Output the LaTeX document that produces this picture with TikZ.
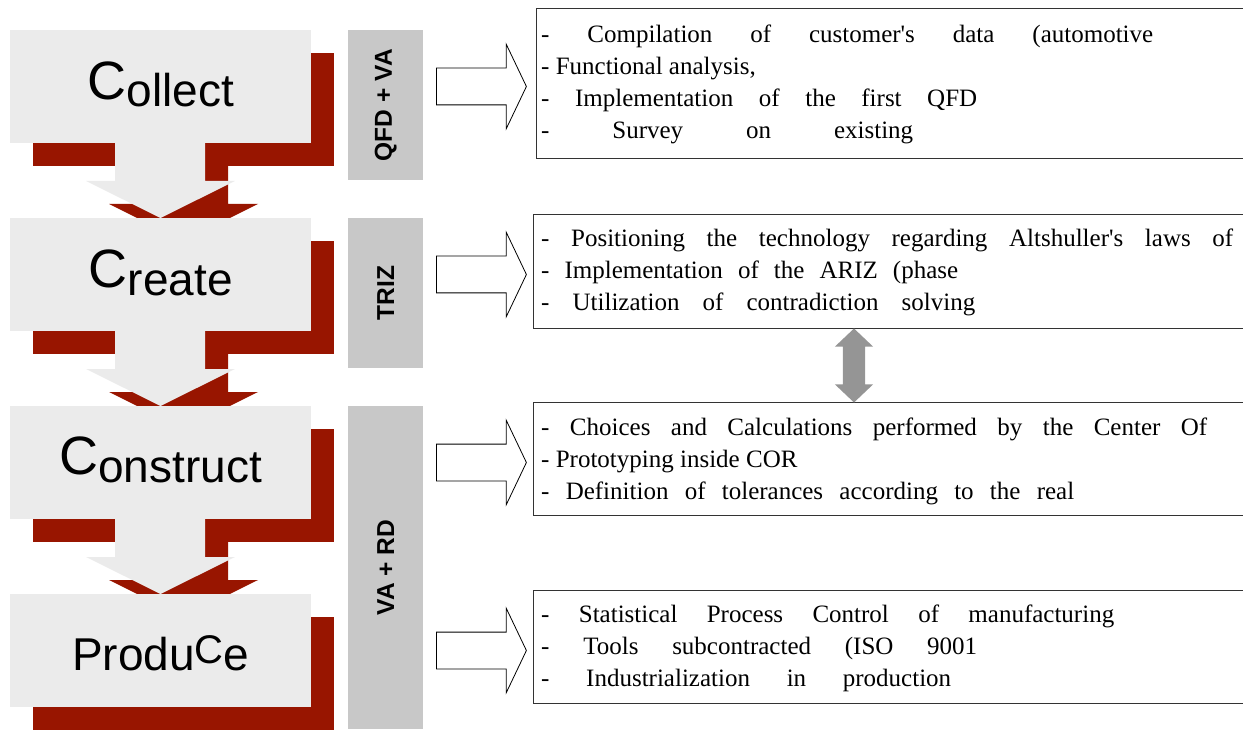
\documentclass[tikz,border=0pt]{standalone}
\usepackage{fontspec}
\setmainfont{Liberation Serif}
\newfontfamily\headfont{Liberation Sans}
\usetikzlibrary{shapes.arrows,calc}

\definecolor{shadowred}{RGB}{152,21,0}
\definecolor{stagegray}{RGB}{235,235,235}
\definecolor{bargray}{RGB}{200,200,200}
\definecolor{linkgray}{RGB}{149,149,149}

% raised capital C of the stage names
\newcommand\raisedC[2]{\raisebox{#1pt}{\fontsize{#2}{#2}\selectfont C}}
% one line of a note, spread to a width (0 = natural width)
\newcommand\noteline[2]{\ifdim#1pt>0pt\makebox[#1pt][s]{#2}\else#2\fi}
\newcommand\qt{\textquotesingle}

\tikzset{
  stagebox/.style={fill=stagegray, minimum width=301pt, minimum height=113pt, inner sep=0pt, anchor=north west},
  stagelabel/.style={anchor=base, inner sep=0pt, font=\headfont\fontsize{46}{46}\selectfont},
  toolbar/.style={fill=bargray, minimum width=75pt, inner sep=0pt, anchor=north west},
  barlabel/.style={rotate=90, inner sep=0pt, font=\headfont\bfseries\fontsize{24.5}{24.5}\selectfont},
  notebox/.style={draw=black!80, line width=1pt, fill=white, minimum width=720pt, inner sep=0pt, anchor=north west},
  notetext/.style={anchor=base west, inner sep=0pt, font=\fontsize{25}{32}\selectfont},
  hollowarrow/.style={single arrow, draw=black, line width=0.8pt, fill=white, anchor=tail,
    inner xsep=0pt, inner ysep=18pt, minimum height=90pt, single arrow head extend=24pt,
    single arrow tip angle=129},
}

\begin{document}
\begin{tikzpicture}[x=1pt, y=-1pt]
  \useasboundingbox (0,0) rectangle (1243,730);

  % stages with red shadows and the arrows between them
  \foreach \i/\nm in {0/collect,1/create,2/construct,3/produce} {
    \pgfmathsetmacro\t{30+188*\i}
    \fill[shadowred] (33,\t+23) rectangle ++(301,113);
    \node[stagebox] (\nm) at (10,\t) {};
    \ifnum\i<3
      \fill[shadowred, shift={(23,23)}] (115,\t+113) -- (205,\t+113) -- (205,\t+151) -- (235,\t+151)
        -- (160.5,\t+188) -- (86,\t+151) -- (115,\t+151) -- cycle;
      \fill[stagegray] (115,\t+113) -- (205,\t+113) -- (205,\t+151) -- (235,\t+151)
        -- (160.5,\t+188) -- (86,\t+151) -- (115,\t+151) -- cycle;
    \fi
  }
  \node[stagelabel] (collectText) at ($(collect.north)+(0,77)$) {\raisedC{7}{54}ollect};
  \node[stagelabel] (createText) at ($(create.north)+(0,77)$) {\raisedC{8}{54}reate};
  \node[stagelabel] (constructText) at ($(construct.north)+(0,76)$) {\raisedC{8}{54}onstruct};
  \node[stagelabel] (produceText) at ($(produce.north)+(0,76)$) {Produ\raisedC{7}{40}e};

  % tool bars
  \node[toolbar, minimum height=150pt] (qfdva) at (348,30) {};
  \node[toolbar, minimum height=150pt] (triz) at (348,218) {};
  \node[toolbar, minimum height=323pt] (vard) at (348,406) {};
  \node[barlabel] (qfdvaText) at (qfdva.center) {QFD + VA};
  \node[barlabel] (trizText) at (triz.center) {TRIZ};
  \node[barlabel] (vardText) at (vard.center) {VA + RD};

  % notes
  \node[notebox, minimum height=150pt] (noteA) at (536,8) {};
  \node[notebox, minimum height=114pt] (noteB) at (533,214) {};
  \node[notebox, minimum height=113pt] (noteC) at (533,402) {};
  \node[notebox, minimum height=113pt] (noteD) at (533,590) {};

  \foreach \j/\w/\txt in {0/612/{- Compilation of customer\qt s data (automotive},
      1/0/{- Functional analysis,}, 2/436/{- Implementation of the first QFD},
      3/372/{- Survey on existing}}
    \node[notetext] (noteA-\j) at ($(noteA.north west)+(5,35+32*\j)$) {\noteline{\w}{\txt}};
  \foreach \j/\w/\txt in {0/692/{- Positioning the technology regarding Altshuller\qt s laws of},
      1/417/{- Implementation of the ARIZ (phase}, 2/434/{- Utilization of contradiction solving}}
    \node[notetext] (noteB-\j) at ($(noteB.north west)+(8,33+32*\j)$) {\noteline{\w}{\txt}};
  \foreach \j/\w/\txt in {0/666/{- Choices and Calculations performed by the Center Of},
      1/0/{- Prototyping inside COR}, 2/533/{- Definition of tolerances according to the real}}
    \node[notetext] (noteC-\j) at ($(noteC.north west)+(8,33+32*\j)$) {\noteline{\w}{\txt}};
  \foreach \j/\w/\txt in {0/573/{- Statistical Process Control of manufacturing},
      1/436/{- Tools subcontracted (ISO 9001}, 2/410/{- Industrialization in production}}
    \node[notetext] (noteD-\j) at ($(noteD.north west)+(8,32+32*\j)$) {\noteline{\w}{\txt}};

  % hollow arrows towards the notes
  \node[hollowarrow] (toA) at (436,86.5) {};
  \node[hollowarrow] (toB) at (436,274.5) {};
  \node[hollowarrow] (toC) at (436,462.5) {};
  \node[hollowarrow] (toD) at (436,650.5) {};

  % link between the TRIZ and construction notes
  \node[double arrow, fill=linkgray, rotate=90, minimum height=74pt, inner xsep=0pt, inner ysep=11pt,
    double arrow head extend=8pt, double arrow tip angle=93]
    (link) at ($(noteB.south west)!0.5!(noteC.north west)+(321,0)$) {};
\end{tikzpicture}
\end{document}
